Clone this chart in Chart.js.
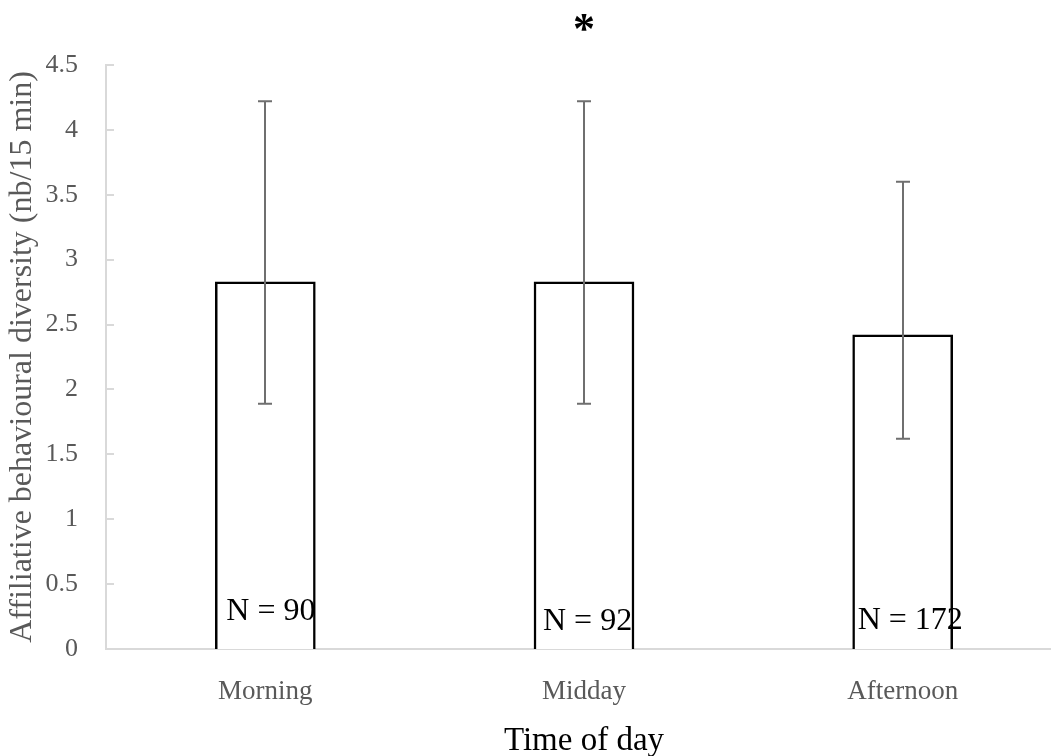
<!DOCTYPE html>
<html>
<head>
<meta charset="utf-8">
<script src="https://cdn.jsdelivr.net/npm/chart.js@4.4.0/dist/chart.umd.min.js"></script>
<style>
  html, body { margin: 0; padding: 0; background: #fff; overflow: hidden; }
  #wrap { width: 1062px; height: 756px; position: relative; }
</style>
</head>
<body>
<div id="wrap"><canvas id="bar-chart"></canvas></div>
<script>
const categories = ['Morning', 'Midday', 'Afternoon'];
const means = [2.83, 2.83, 2.42];
const errLow = [1.89, 1.89, 1.62];
const errHigh = [4.22, 4.22, 3.60];
const sampleLabels = ['N = 90', 'N = 92', 'N = 172'];
const yTicks = [0, 0.5, 1, 1.5, 2, 2.5, 3, 3.5, 4, 4.5];

const serif = "'Liberation Serif', 'DejaVu Serif', serif";
const axisGrey = '#d9d9d9';

// error bars, inward tick marks, N labels and the asterisk
const extras = {
  id: 'extras',
  afterDatasetsDraw(chart) {
    const ctx = chart.ctx;
    const x = chart.scales.x;
    const y = chart.scales.y;
    const meta = chart.getDatasetMeta(0);

    ctx.save();
    // y tick marks pointing into the plot
    ctx.strokeStyle = axisGrey;
    ctx.lineWidth = 2;
    yTicks.forEach(v => {
      const py = Math.round(y.getPixelForValue(v));
      ctx.beginPath();
      ctx.moveTo(x.left, py);
      ctx.lineTo(x.left + 8, py);
      ctx.stroke();
    });

    // error bars
    ctx.strokeStyle = '#6f6f6f';
    ctx.lineWidth = 2;
    categories.forEach((c, i) => {
      const cx = Math.round(x.getPixelForValue(i));
      const top = y.getPixelForValue(errHigh[i]);
      const bot = y.getPixelForValue(errLow[i]);
      ctx.beginPath();
      ctx.moveTo(cx, top);
      ctx.lineTo(cx, bot);
      ctx.moveTo(cx - 7, top);
      ctx.lineTo(cx + 7, top);
      ctx.moveTo(cx - 7, bot);
      ctx.lineTo(cx + 7, bot);
      ctx.stroke();
    });

    // sample sizes
    const nOffsets = [[11, 620], [9, 630], [5, 629]];
    ctx.fillStyle = '#000';
    ctx.font = "32px " + serif;
    ctx.textAlign = 'left';
    ctx.textBaseline = 'alphabetic';
    meta.data.forEach((bar, i) => {
      const left = bar.x - bar.width / 2;
      ctx.fillText(sampleLabels[i], left + nOffsets[i][0], nOffsets[i][1]);
    });

    // significance star over Midday
    ctx.font = "bold 44px " + serif;
    ctx.textAlign = 'center';
    ctx.textBaseline = 'middle';
    ctx.fillText('*', x.getPixelForValue(1), 32);
    ctx.restore();
  }
};

new Chart(document.getElementById('bar-chart'), {
  type: 'bar',
  data: {
    labels: categories,
    datasets: [{
      data: means,
      backgroundColor: '#ffffff',
      borderColor: '#000000',
      borderWidth: { top: 2.5, left: 2.5, right: 2.5, bottom: 0 },
      borderSkipped: 'bottom',
      barThickness: 100
    }]
  },
  options: {
    responsive: true,
    maintainAspectRatio: false,
    animation: false,
    layout: { padding: { top: 65, right: 0, bottom: 0, left: 0 } },
    plugins: {
      legend: { display: false },
      tooltip: { enabled: false }
    },
    scales: {
      x: {
        grid: { display: false },
        border: { display: true, color: axisGrey, width: 2 },
        ticks: {
          color: '#595959',
          font: { family: serif, size: 27 },
          padding: 19
        },
        title: {
          display: true,
          text: 'Time of day',
          color: '#000',
          font: { family: serif, size: 33 },
          padding: { top: 0, bottom: -5 }
        },
        afterFit(scale) { scale.height = 107; }
      },
      y: {
        min: 0,
        max: 4.5,
        grid: { display: false },
        border: { display: true, color: axisGrey, width: 2 },
        ticks: {
          stepSize: 0.5,
          color: '#595959',
          font: { family: serif, size: 26 },
          padding: 20,
          callback: v => String(v)
        },
        title: {
          display: true,
          text: 'Affiliative behavioural diversity (nb/15 min)',
          color: '#595959',
          font: { family: serif, size: 32 },
          padding: { top: 3, bottom: 0 }
        },
        afterFit(scale) { scale.width = 106; }
      }
    }
  },
  plugins: [extras]
});
</script>
</body>
</html>
